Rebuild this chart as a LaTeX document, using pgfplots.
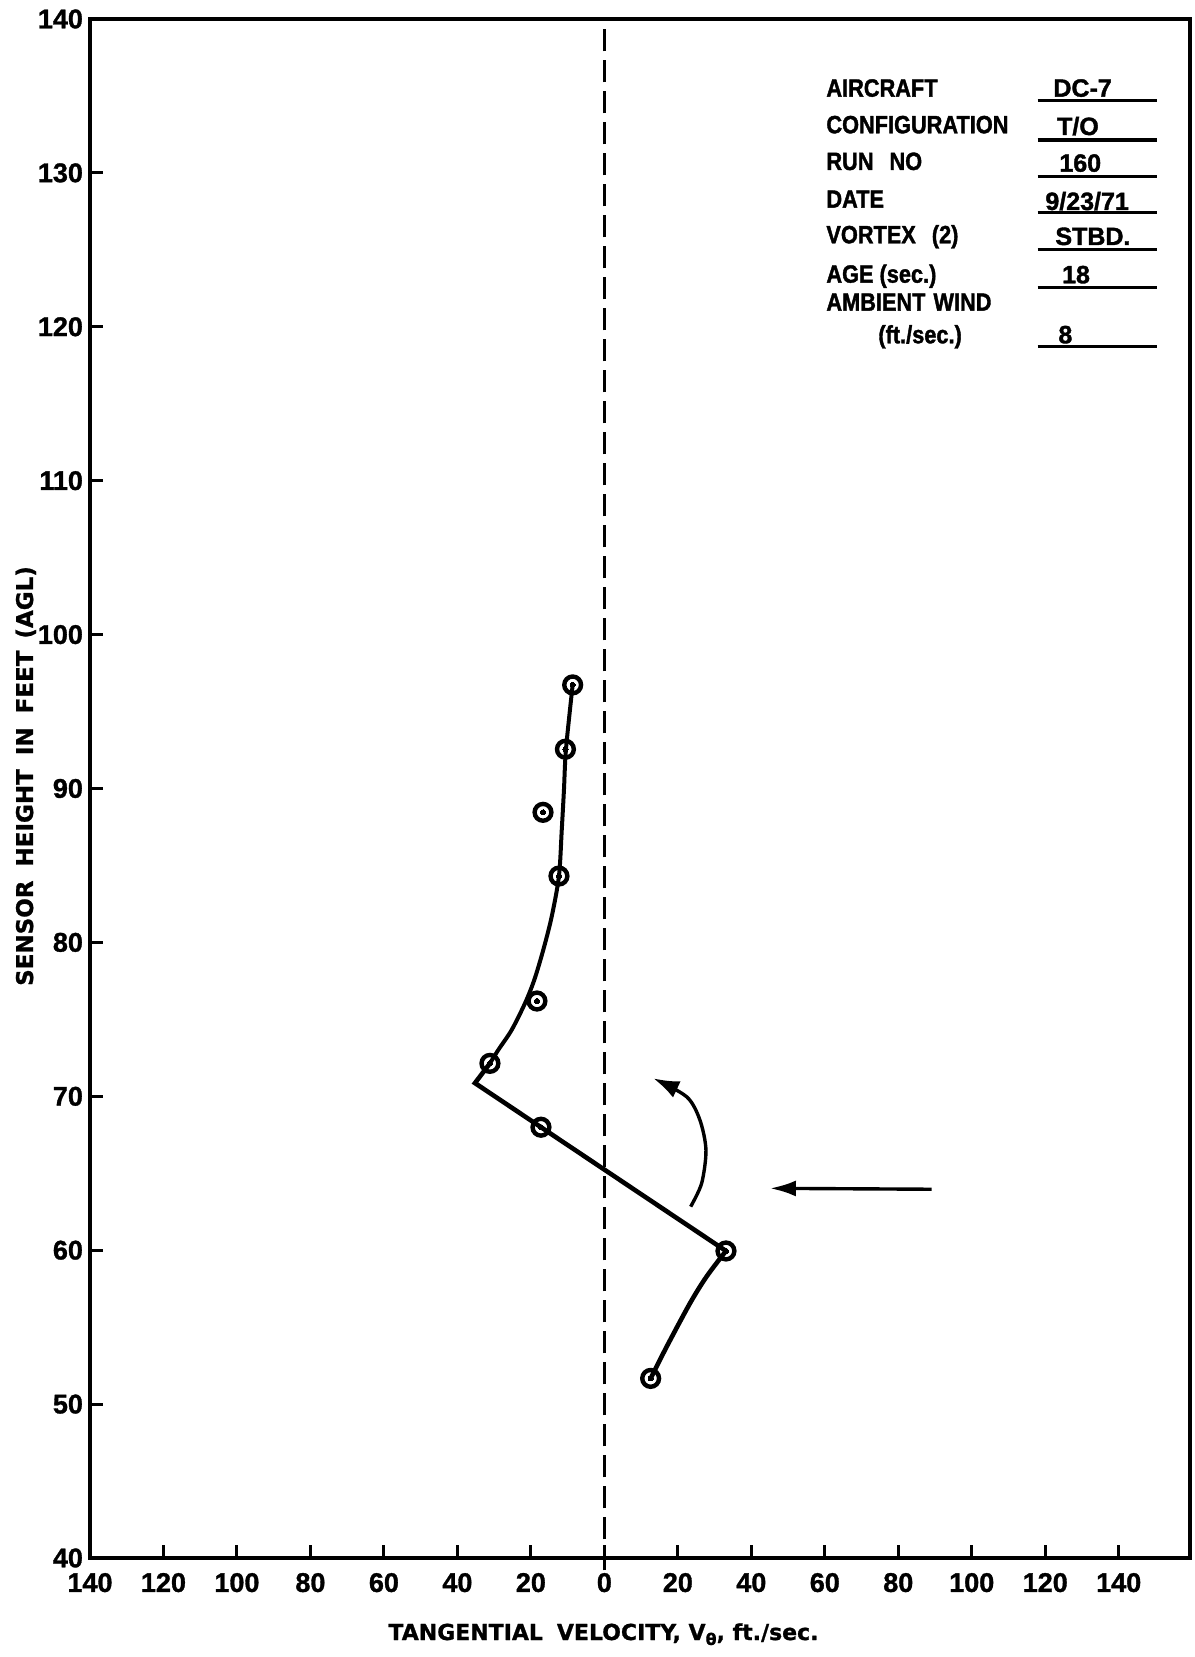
\documentclass[border=0pt]{standalone}
\usepackage{pgfplots}
\pgfplotsset{compat=1.18}
\usetikzlibrary{arrows.meta}
\usepackage{fontspec}
\setmainfont{Liberation Sans}[BoldFeatures={FakeBold=1.2}]
\newfontfamily\tabfont{Liberation Sans}[FakeStretch=0.87, BoldFeatures={FakeBold=1.5}]
\newfontfamily\valfont{Liberation Sans}[BoldFeatures={FakeBold=1.5}]
\newfontfamily\labfont{DejaVu Sans}[BoldFeatures={FakeBold=1.0}]

\begin{document}
\begin{tikzpicture}
\useasboundingbox (-45pt,-49.5pt) rectangle (552pt,779pt);
\begin{axis}[
 at={(0pt,0pt)}, anchor=south west, scale only axis,
 width=550pt, height=769.5pt,
 xmin=-140, xmax=159.4, ymin=40, ymax=140,
 xtick={-140,-120,...,140},
 xticklabels={140,120,100,80,60,40,20,0,20,40,60,80,100,120,140},
 ytick={40,50,...,140},
 yticklabels={40,50,60,70,80,90,100,110,120,130,140},
 tick pos=left, tick align=inside,
 major tick length=6.5pt,
 tick style={line width=1.5pt, black},
 axis line style={line width=2pt},
 ticklabel style={font=\fontsize{13.5}{13.5}\selectfont\bfseries},
 xticklabel style={yshift=-4pt},
 clip=false,
]
% zero line
\addplot[black, line width=1.5pt, dash pattern=on 11pt off 4.5pt] coordinates {(0,39.2) (0,139.5)};
% upper curve
\addplot[black, smooth, line width=2pt] coordinates {
 (-8.63,96.73) (-10.45,92.55) (-11.0,89.9) (-11.6,87.3) (-12.36,84.31)
 (-14.34,81.67) (-16.63,79.51) (-19.08,77.56) (-21.61,76.04) (-25.23,74.31)
 (-28.88,73.01) (-31.14,72.14)};
% kink and straight segment
\addplot[black, line width=2.3pt, line join=miter] coordinates {
 (-31.14,72.14) (-35.22,70.86) (33.1,59.95)};
% lower segment
\addplot[black, smooth, line width=2.3pt] coordinates {
 (33.1,59.95) (27.8,58.28) (23.3,56.55) (16.96,53.73) (12.6,51.67)};
% rotation arrow
\addplot[black, smooth, line width=1.7pt, -{Latex[length=13pt,width=9pt]}] coordinates {
 (23.49,62.83) (26.48,64.35) (27.65,66.51) (26.0,68.46) (22.4,69.97) (13.3,71.17)};
% wind arrow
\addplot[black, line width=1.7pt, -{Latex[length=13pt,width=8pt]}] coordinates {(89.1,63.96) (45.07,64.02)};
% data points
\addplot[only marks, mark=o, mark size=4.2pt, mark options={line width=2.2pt, fill=white, draw=black}] coordinates {
 (-8.63,96.73) (-10.6,92.55) (-16.7,88.45) (-12.36,84.31) (-18.35,76.19)
 (-31.14,72.14) (-17.26,67.99) (33.1,59.95) (12.6,51.67)};
\addplot[only marks, mark=*, mark size=1.3pt, mark options={fill=black, draw=black, line width=0pt}] coordinates {
 (-8.63,96.73) (-10.6,92.55) (-16.7,88.45) (-12.36,84.31) (-18.35,76.19)
 (-31.14,72.14) (-17.26,67.99) (33.1,59.95) (12.6,51.67)};
\end{axis}
\begin{scope}[x=0.5pt,y=-0.5pt,shift={(-45pt,779pt)}]
 % axis labels
 \node[anchor=base, inner sep=0, font=\labfont\fontsize{11}{12}\selectfont\bfseries]
   at (603.5,1640) {TANGENTIAL\hspace{7pt}VELOCITY, V\raisebox{-2.5pt}{\fontsize{8}{8}\selectfont θ}, ft./sec.};
 \node[anchor=base, rotate=90, inner sep=0, font=\labfont\fontsize{11.5}{12}\selectfont\bfseries]
   at (33,776) {SENSOR\hspace{7pt}HEIGHT\hspace{7pt}IN\hspace{7pt}FEET\hspace{6pt}(AGL)};
 % info table
 \begin{scope}[every node/.style={anchor=base west, inner sep=0, font=\tabfont\fontsize{12.5}{13}\selectfont\bfseries}]
  \node at (826,96.7) {AIRCRAFT};
  \node at (826,133.3) {CONFIGURATION};
  \node at (826,170) {RUN\hspace{8pt}NO};
  \node at (826,207.7) {DATE};
  \node at (826,243.3) {VORTEX\hspace{8pt}(2)};
  \node at (826,282.7) {AGE (sec.)};
  \node at (826,310.7) {AMBIENT\hspace{4pt}WIND};
  \node at (878,343.3) {(ft./sec.)};
 \end{scope}
 \begin{scope}[every node/.style={anchor=base west, inner sep=0, font=\valfont\fontsize{12.5}{13}\selectfont\bfseries}]
  \node at (1053,96.7) {DC-7};
  \node at (1056.7,135) {T/O};
  \node at (1059,171.7) {160};
  \node at (1045,210) {9/23/71};
  \node at (1055,245) {STBD.};
  \node at (1061.7,283.3) {18};
  \node at (1058,343.3) {8};
 \end{scope}
 \foreach \yy in {100.7,140,176.7,212.7,249.3,287.7,346.7}
   \draw[line width=1.6pt] (1037.7,\yy) -- (1156.7,\yy);
\end{scope}
\end{tikzpicture}
\end{document}
